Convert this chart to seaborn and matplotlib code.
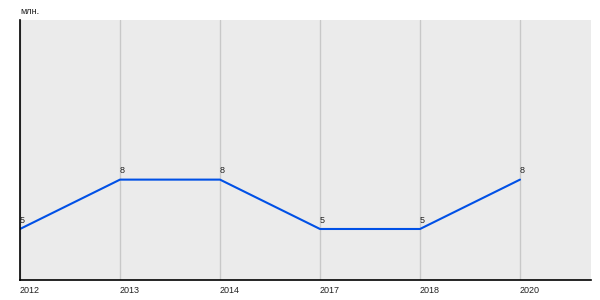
import matplotlib
matplotlib.use("Agg")
import matplotlib.pyplot as plt
import seaborn as sns
import pandas as pd

years = ["2012", "2013", "2014", "2017", "2018", "2020"]
values = [5, 8, 8, 5, 5, 8]
unit_label = "млн."

sns.set_theme(style="darkgrid")
plt.rcParams["font.family"] = ["Liberation Sans", "DejaVu Sans"]

df = pd.DataFrame({"year": years, "value": values})

fig = plt.figure(figsize=(6, 3), dpi=100)
ax = fig.add_axes([20/600, 20/300, 571/600, 260/300])
ax.set_facecolor("#ebebeb")

sns.lineplot(data=df, x="year", y="value", sort=False, ax=ax,
             color="#0050e6", linewidth=1.5)

ax.set_xlim(0, 5.71)
ax.set_ylim(1.9, 17.7)
ax.set_xlabel("")
ax.set_ylabel("")
ax.set_yticks([])
ax.set_xticks(range(len(years)))
ax.set_xticklabels(years, fontsize=6.5, ha="left", color="#222222")
ax.tick_params(axis="x", length=0, pad=4)
ax.grid(axis="x", color="#c8c8c8", linewidth=1)
ax.grid(axis="y", visible=False)

for s in ["top", "right"]:
    ax.spines[s].set_visible(False)
for s in ["left", "bottom"]:
    ax.spines[s].set_visible(True)
    ax.spines[s].set_color("black")
    ax.spines[s].set_linewidth(1.2)

for i, v in enumerate(values):
    ax.annotate(str(v), (i, v), xytext=(0, 3), textcoords="offset points",
                ha="left", va="bottom", fontsize=6.5, color="#222222")

fig.text(20/600, 1 - 12/300, unit_label, ha="left", va="center",
         fontsize=6.5, color="#222222")

fig.savefig("out.png", dpi=100, facecolor="white")
